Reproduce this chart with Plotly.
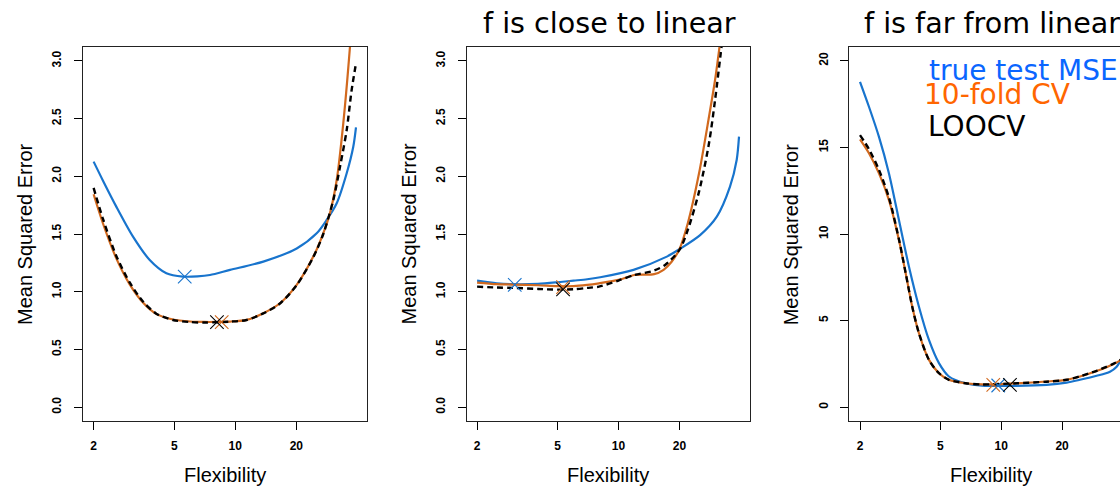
import plotly.graph_objects as go

W, H = 1120, 488

# ---------------- data ----------------
# Panel 1
p1_test_x = [2, 2.225, 2.588, 3.129, 3.783, 4.571, 5.52, 6.5, 7.5, 9.42, 13.75, 20.09, 25.21, 28.25, 31.65, 35.45, 38.2, 39.4]
p1_test_y = [2.127, 1.962, 1.737, 1.477, 1.275, 1.160, 1.131, 1.133, 1.145, 1.189, 1.261, 1.375, 1.506, 1.622, 1.766, 2.026, 2.256, 2.424]
p1_cv10_x = [2, 2.225, 2.588, 3.013, 3.503, 4.076, 4.927, 6, 7, 8, 9.42, 11.38, 13.75, 16.62, 20.09, 24.26, 27.17, 29.3, 31.65, 34.1, 36.8, 39.4]
p1_cv10_y = [1.844, 1.591, 1.289, 1.064, 0.907, 0.808, 0.759, 0.742, 0.738, 0.738, 0.741, 0.756, 0.814, 0.900, 1.059, 1.304, 1.506, 1.68, 1.968, 2.459, 3.122, 3.86]
p1_loo_x = [2, 2.225, 2.588, 3.013, 3.503, 4.076, 4.927, 6, 7, 8, 9.42, 11.38, 13.75, 16.62, 20.09, 24.26, 27.17, 30.45, 32.86, 35.45, 37.5, 39.4]
p1_loo_y = [1.90, 1.63, 1.31, 1.08, 0.915, 0.81, 0.755, 0.737, 0.733, 0.735, 0.741, 0.755, 0.812, 0.898, 1.057, 1.30, 1.50, 1.795, 2.083, 2.40, 2.747, 2.978]
p1_min = {"test": (5.63, 1.131), "cv": (8.57, 0.736), "loo": (8.12, 0.736)}

# Panel 2
p2_test_x = [2, 2.5, 3, 4, 5, 6, 7, 8.12, 11.86, 17.33, 20.0, 25.3, 30.6, 35.56, 38.37, 39.4]
p2_test_y = [1.096, 1.073, 1.065, 1.068, 1.082, 1.096, 1.108, 1.1255, 1.189, 1.304, 1.368, 1.49, 1.650, 1.910, 2.141, 2.343]
p2_cv10_x = [2, 2.5, 3, 4, 5, 6, 7, 8, 10, 12, 15, 16.7, 18.3, 20, 22, 25, 28, 30, 32, 35, 39.4]
p2_cv10_y = [1.079, 1.065, 1.062, 1.056, 1.048, 1.048, 1.059, 1.073, 1.102, 1.145, 1.152, 1.19, 1.26, 1.368, 1.593, 2.026, 2.516, 2.834, 3.2, 3.7, 4.4]
p2_loo_x = [2, 2.5, 3, 4, 5, 6, 7, 8, 10, 12, 15, 17, 20, 22, 25, 28, 30, 32, 35, 39.4]
p2_loo_y = [1.044, 1.036, 1.033, 1.024, 1.018, 1.021, 1.033, 1.044, 1.097, 1.145, 1.183, 1.232, 1.362, 1.535, 1.867, 2.286, 2.661, 3.065, 3.65, 4.4]
p2_min = {"test": (3.07, 1.06), "cv": (5.32, 1.04), "loo": (5.32, 1.02)}

# Panel 3
p3_test_x = [2.0, 2.215, 2.483, 2.782, 3.117, 3.494, 3.915, 4.388, 4.917, 5.51, 6.66, 8.05, 11.47, 16.77, 21.07, 24.51, 29.65, 34.5, 37.24, 38.66, 40]
p3_test_y = [18.79, 17.35, 15.61, 13.50, 10.81, 8.11, 5.80, 3.88, 2.54, 1.77, 1.38, 1.24, 1.23, 1.29, 1.42, 1.58, 1.81, 2.05, 2.34, 2.63, 3.0]
p3_cv10_x = [2.0, 2.215, 2.483, 2.782, 3.117, 3.365, 3.627, 3.915, 4.388, 4.917, 5.51, 6.66, 8.05, 11.47, 16.77, 21.07, 24.51, 29.65, 35.8, 38.66, 40]
p3_cv10_y = [15.46, 14.66, 13.50, 11.96, 9.65, 7.73, 5.80, 4.27, 2.73, 1.96, 1.58, 1.38, 1.31, 1.37, 1.48, 1.58, 1.77, 2.09, 2.48, 2.69, 2.85]
p3_loo_x = [2.0, 2.215, 2.483, 2.782, 3.117, 3.365, 3.627, 3.915, 4.388, 4.917, 5.51, 6.66, 8.05, 11.47, 16.77, 21.07, 24.51, 29.65, 35.8, 38.66, 40]
p3_loo_y = [15.71, 14.9, 13.7, 12.1, 9.7, 7.75, 5.80, 4.27, 2.73, 1.96, 1.58, 1.38, 1.31, 1.37, 1.47, 1.58, 1.78, 2.10, 2.50, 2.70, 2.86]
p3_min = {"test": (9.66, 1.25), "cv": (9.13, 1.29), "loo": (11.04, 1.29)}

titles = ["", "f is close to linear", "f is far from linear"]
legend_labels = ["true test MSE", "10-fold CV", "LOOCV"]
x_tick_vals = [2, 5, 10, 20]
y_ticks_small = [0.0, 0.5, 1.0, 1.5, 2.0, 2.5, 3.0]
y_ticks_big = [0, 5, 10, 15, 20]

# ---------------- styling ----------------
C_TEST = "#1874CD"
C_CV = "#D2691E"
C_LOO = "#000000"
LEG_COLORS = ["#0A66FF", "#FF6600", "#000000"]
AXFONT = "Liberation Sans, Arial, Helvetica, sans-serif"
TFONT = "DejaVu Sans, Verdana, sans-serif"

def px(x):
    return x / W

def py(y):
    return 1 - y / H

panels = [
    dict(test=(p1_test_x, p1_test_y), cv=(p1_cv10_x, p1_cv10_y), loo=(p1_loo_x, p1_loo_y), mins=p1_min,
         dom=(83, 367), xr=(0.2487, 1.6498), yr=(-0.12, 3.12), yt=y_ticks_small, fmt="{:.1f}", mirror=True),
    dict(test=(p2_test_x, p2_test_y), cv=(p2_cv10_x, p2_cv10_y), loo=(p2_loo_x, p2_loo_y), mins=p2_min,
         dom=(466.5, 750), xr=(0.2487, 1.6498), yr=(-0.12, 3.12), yt=y_ticks_small, fmt="{:.1f}", mirror=True),
    dict(test=(p3_test_x, p3_test_y), cv=(p3_cv10_x, p3_cv10_y), loo=(p3_loo_x, p3_loo_y), mins=p3_min,
         dom=(849.3, 1120), xr=(0.2481, 1.5875), yr=(-0.8, 20.8), yt=y_ticks_big, fmt="{:d}", mirror=False),
]

fig = go.Figure()
layout = dict(
    width=W, height=H, margin=dict(l=0, r=0, t=0, b=0),
    paper_bgcolor="white", plot_bgcolor="white", showlegend=False,
    font=dict(family=AXFONT, color="black"),
    annotations=[],
)

TICKFONT = dict(family=AXFONT, size=12, color="black", weight="bold")

Y0, Y1 = 47, 421
for i, p in enumerate(panels):
    n = "" if i == 0 else str(i + 1)
    xa, ya = "x" + n, "y" + n
    for key, col, dash, lw in [("test", C_TEST, "solid", 2.2), ("cv", C_CV, "solid", 2.2), ("loo", C_LOO, "6px,4px", 2.4)]:
        xs, ys = p[key]
        fig.add_trace(go.Scatter(x=xs, y=ys, mode="lines", xaxis=xa, yaxis=ya,
                                 line=dict(color=col, width=lw, dash=dash, shape="spline", smoothing=0.8),
                                 hoverinfo="skip"))
    for key, col in [("test", C_TEST), ("cv", C_CV), ("loo", C_LOO)]:
        mx, my = p["mins"][key]
        fig.add_trace(go.Scatter(x=[mx], y=[my], mode="markers", xaxis=xa, yaxis=ya, cliponaxis=False,
                                 marker=dict(symbol="x-thin", size=13.5, color=col, line=dict(color=col, width=1.1)),
                                 hoverinfo="skip"))
    d0, d1 = p["dom"]
    layout["xaxis" + n] = dict(
        type="log", domain=[px(d0), px(d1)], range=list(p["xr"]), anchor=ya,
        tickvals=x_tick_vals, ticktext=[str(v) for v in x_tick_vals],
        ticks="outside", ticklen=8, tickwidth=1, tickcolor="black",
        showline=True, linecolor="#222", linewidth=1, mirror=True,
        showgrid=False, zeroline=False, tickfont=TICKFONT,
        ticklabelstandoff=6,
    )
    layout["yaxis" + n] = dict(
        domain=[py(Y1), py(Y0)], range=list(p["yr"]), anchor=xa,
        tickvals=p["yt"], ticktext=[p["fmt"].format(v) for v in p["yt"]], tickangle=-90,
        ticks="outside", ticklen=8, tickwidth=1, tickcolor="black",
        showline=True, linecolor="#222", linewidth=1, mirror=p["mirror"],
        showgrid=False, zeroline=False, tickfont=TICKFONT,
        ticklabelstandoff=8,
    )
    full_left = d0
    full_center = d0 + 283.5 / 2
    layout["annotations"].append(dict(text="Flexibility", x=px(full_center), y=py(475), xref="paper", yref="paper",
                                      xanchor="center", yanchor="middle", showarrow=False,
                                      font=dict(family=AXFONT, size=20, color="black")))
    layout["annotations"].append(dict(text="Mean Squared Error", x=px(full_left - 58), y=py(234), xref="paper", yref="paper",
                                      xanchor="center", yanchor="middle", showarrow=False, textangle=-90,
                                      font=dict(family=AXFONT, size=20, color="black")))
    if titles[i]:
        layout["annotations"].append(dict(text=titles[i], x=px(full_center + 1), y=py(23), xref="paper", yref="paper",
                                          xanchor="center", yanchor="middle", showarrow=False,
                                          font=dict(family=TFONT, size=28.6, color="black")))

leg_pos = [(927, 70), (922, 94), (926, 126)]
for lab, col, (lx, ly) in zip(legend_labels, LEG_COLORS, leg_pos):
    layout["annotations"].append(dict(text=lab, x=px(lx), y=py(ly), xref="paper", yref="paper",
                                      xanchor="left", yanchor="middle", showarrow=False,
                                      font=dict(family=TFONT, size=28, color=col)))

fig.update_layout(**layout)
fig.write_html("out.html", config={"displayModeBar": False},
               post_script="document.body.style.margin='0';document.body.style.overflow='hidden';")
